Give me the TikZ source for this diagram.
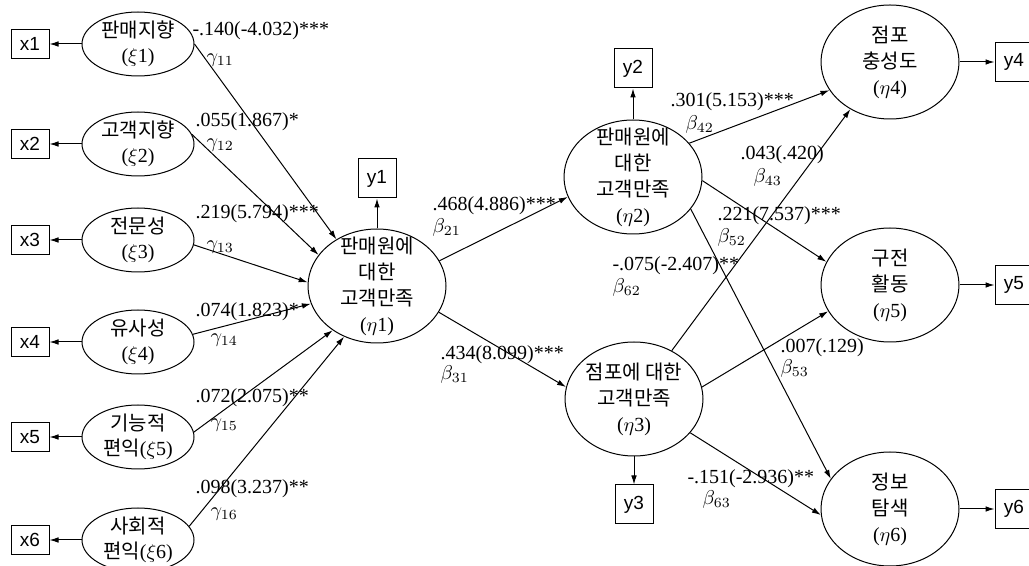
\documentclass[tikz,border=0pt]{standalone}
\usepackage{fontspec}
\setmainfont{Liberation Serif}
\setsansfont{Liberation Sans}
\newfontfamily\kr{Noto Sans CJK KR}
\usetikzlibrary{shapes.geometric, positioning}
\usetikzlibrary{arrows.meta}
\tikzset{>={Latex[width=2.8pt,length=4.5pt]}}

\begin{document}
\begin{tikzpicture}[x=0.5pt, y=-0.5pt, line width=0.5pt, exo/.style={ellipse, draw, inner sep=-6pt, minimum width=56pt, minimum height=32pt, align=center, font=\fontsize{10}{12.5}\selectfont}, endo/.style={ellipse, draw, inner sep=-12pt, minimum width=69pt, minimum height=57pt, align=center, font=\fontsize{10}{13}\selectfont}, xbox/.style={rectangle, draw, inner sep=0pt, minimum width=19pt, minimum height=14.5pt, font=\sffamily\fontsize{9.5}{11}\selectfont}, ybox/.style={xbox, minimum height=19.5pt}, coef/.style={anchor=west, inner sep=0pt, font=\fontsize{10}{12}\selectfont}]
    \useasboundingbox (0,0) rectangle (1029,566);
    \clip (0,0) rectangle (1029,566);

    %Nodes
    \node[exo](xi1) at (138,44){{\kr 판매지향}\\($\xi$1)};
    \node[exo](xi2) at (138,144){{\kr 고객지향}\\($\xi$2)};
    \node[exo](xi3) at (138,240){{\kr 전문성}\\($\xi$3)};
    \node[exo](xi4) at (138,342){{\kr 유사성}\\($\xi$4)};
    \node[exo](xi5) at (138,437){{\kr 기능적}\\{\kr 편익}($\xi$5)};
    \node[exo](xi6) at (138,540){{\kr 사회적}\\{\kr 편익}($\xi$6)};
    \node[xbox](x1)[left=16pt of xi1]{x1};
    \node[xbox](x2)[left=16pt of xi2]{x2};
    \node[xbox](x3)[left=16pt of xi3]{x3};
    \node[xbox](x4)[left=16pt of xi4]{x4};
    \node[xbox](x5)[left=16pt of xi5]{x5};
    \node[xbox](x6)[left=16pt of xi6]{x6};

    \node[endo](eta1) at (377,286){{\kr 판매원에}\\{\kr 대한}\\{\kr 고객만족}\\($\eta$1)};
    \node[endo](eta2) at (633,177){{\kr 판매원에}\\{\kr 대한}\\{\kr 고객만족}\\($\eta$2)};
    \node[endo](eta3) at (634,399){{\kr 점포에 대한}\\{\kr 고객만족}\\($\eta$3)};
    \node[endo](eta4) at (890,62){{\kr 점포}\\{\kr 충성도}\\($\eta$4)};
    \node[endo](eta5) at (890,285){{\kr 구전}\\{\kr 활동}\\($\eta$5)};
    \node[endo](eta6) at (890,509){{\kr 정보}\\{\kr 탐색}\\($\eta$6)};
    \node[ybox](y1)[above=15pt of eta1]{y1};
    \node[ybox](y2)[above=15.5pt of eta2]{y2};
    \node[ybox](y3)[below=14pt of eta3]{y3};
    \node[ybox](y4)[right=17.5pt of eta4]{y4};
    \node[ybox](y5)[right=17.5pt of eta5]{y5};
    \node[ybox](y6)[right=17.5pt of eta6]{y6};

    %Coefficients
    \node[coef](c11) at (192,31){-.140(-4.032)***};
    \node[coef](g11) at (206,60){$\gamma_{11}$};
    \node[coef](c12) at (195,122){.055(1.867)*};
    \node[coef](g12) at (206,145){$\gamma_{12}$};
    \node[coef](c13) at (195,214){.219(5.794)***};
    \node[coef](g13) at (206,247){$\gamma_{13}$};
    \node[coef](c14) at (195,312){.074(1.823)*};
    \node[coef](g14) at (210,340){$\gamma_{14}$};
    \node[coef](c15) at (195,398){.072(2.075)**};
    \node[coef](g15) at (210,425){$\gamma_{15}$};
    \node[coef](c16) at (195,489){.098(3.237)**};
    \node[coef](g16) at (210,514){$\gamma_{16}$};
    \node[coef](c21) at (432,206){.468(4.886)***};
    \node[coef](b21) at (432,228){$\beta_{21}$};
    \node[coef](c31) at (440,355){.434(8.099)***};
    \node[coef](b31) at (440,375){$\beta_{31}$};
    \node[coef](c42) at (670,102){.301(5.153)***};
    \node[coef](b42) at (685,125){$\beta_{42}$};
    \node[coef](c43) at (740,155){.043(.420)};
    \node[coef](b43) at (753,178){$\beta_{43}$};
    \node[coef](c52) at (717,216){.221(7.537)***};
    \node[coef](b52) at (717,238){$\beta_{52}$};
    \node[coef](c62) at (612,266){-.075(-2.407)**};
    \node[coef](b62) at (612,288){$\beta_{62}$};
    \node[coef](c53) at (780,348){.007(.129)};
    \node[coef](b53) at (780,369){$\beta_{53}$};
    \node[coef](c63) at (687,479){-.151(-2.936)**};
    \node[coef](b63) at (702,500){$\beta_{63}$};

    %Lines
    \draw[->] (xi1) -- (x1);
    \draw[->] (xi2) -- (x2);
    \draw[->] (xi3) -- (x3);
    \draw[->] (xi4) -- (x4);
    \draw[->] (xi5) -- (x5);
    \draw[->] (xi6) -- (x6);
    \draw[->] (xi1.0) -- (eta1.131);
    \draw[->] (xi2.10) -- (eta1.152);
    \draw[->] (xi3.-5) -- (eta1.177);
    \draw[->] (xi4.8) -- (eta1.195);
    \draw[->] (xi5.5) -- (eta1.225);
    \draw[->] (xi6.15) -- (eta1.237);
    \draw[->] (eta1) -- (y1);
    \draw[->] (eta1.22) -- (eta2.197);
    \draw[->] (eta1.337) -- (eta3.170);
    \draw[->] (eta2) -- (y2);
    \draw[->] (eta2.31) -- (eta4.205);
    \draw[->] (eta2.357) -- (eta5.160);
    \draw[->] (eta2.331) -- (eta6.153);
    \draw[->] (eta3) -- (y3);
    \draw[->] (eta3.52) -- (eta4.230);
    \draw[->] (eta3.10) -- (eta5.203);
    \draw[->] (eta3.329) -- (eta6.185);
    \draw[->] (eta4) -- (y4);
    \draw[->] (eta5) -- (y5);
    \draw[->] (eta6) -- (y6);

\end{tikzpicture}
\end{document}
